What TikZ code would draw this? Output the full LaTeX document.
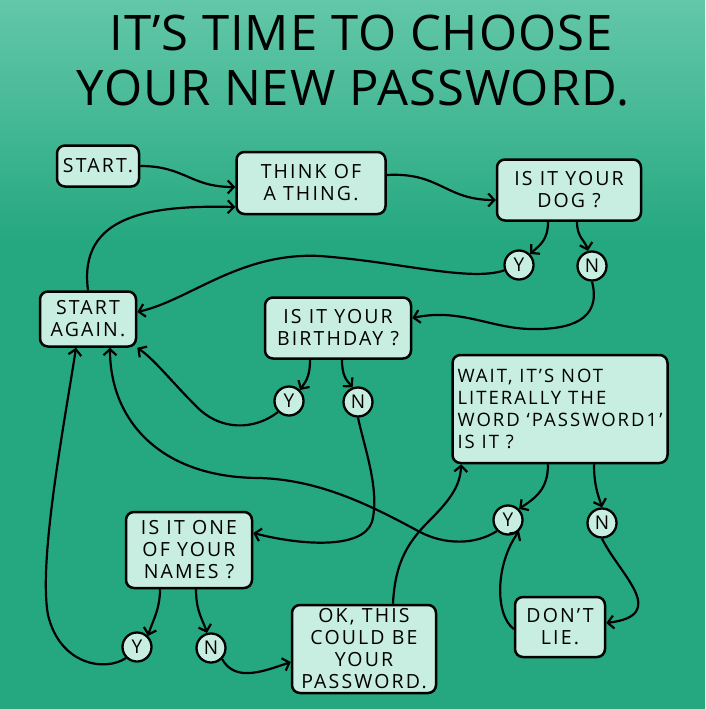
\documentclass[tikz,border=0pt]{standalone}
\usepackage{fontspec}
\setmainfont{Open Sans}
\newfontfamily\handfont[LetterSpace=11]{Open Sans}
\newfontfamily\headfont[LetterSpace=2]{Open Sans}
\usetikzlibrary{arrows.meta}
\definecolor{bgtop}{HTML}{62C7A8}
\definecolor{bgmid}{HTML}{25A87F}
\definecolor{boxfill}{HTML}{C8EEE1}
\pgfdeclareverticalshading{bgshade}{100bp}{color(0bp)=(bgmid); color(58bp)=(bgmid); color(67bp)=(bgtop!55!bgmid); color(75bp)=(bgtop); color(100bp)=(bgtop)}
\tikzset{
  flowbox/.style={draw,line width=2.5pt,rounded corners=8pt,fill=boxfill,inner sep=3pt,
    font=\handfont\fontsize{19.5}{22}\selectfont,align=center},
  answer/.style={draw,circle,line width=2.3pt,fill=boxfill,inner sep=0pt,minimum size=29pt,
    font=\handfont\fontsize{19}{19}\selectfont},
  link/.style={line width=2.2pt,-{Straight Barb[length=6pt,width=13pt,line width=2.2pt]}},
  headline/.style={font=\headfont\fontsize{49}{49}\selectfont}
}

\begin{document}
\begin{tikzpicture}[x=1pt,y=-1pt]
  \useasboundingbox (0,0) rectangle (705,709);
  \shade[shading=bgshade] (0,0) rectangle (705,709);
  % title
  \node[headline] (title1) at (361,33) {IT’S TIME TO CHOOSE};
  \node[headline] (title2) at (353,88) {YOUR NEW PASSWORD.};
  % boxes and answers
  \node[flowbox,minimum width=82pt,minimum height=41pt] (start) at (98,166) {START.};
  \node[flowbox,minimum width=149pt,minimum height=62pt] (think) at (311,183) {THINK OF\\A THING.};
  \node[flowbox,minimum width=144pt,minimum height=61pt] (dog) at (569,190) {IS IT YOUR\\DOG ?};
  \node[answer] (dogy) at (519,265) {Y};
  \node[answer] (dogn) at (592,266) {N};
  \node[flowbox,minimum width=96pt,minimum height=55pt] (again) at (88,319) {START\\AGAIN.};
  \node[flowbox,minimum width=146pt,minimum height=61pt] (bday) at (338,328) {IS IT YOUR\\BIRTHDAY ?};
  \node[answer] (bdayy) at (289,401) {Y};
  \node[answer] (bdayn) at (358,402) {N};
  \node[flowbox,align=left,minimum width=215pt,minimum height=108pt,
    font=\handfont\fontsize{18.5}{22}\selectfont] (wait) at (560,409)
    {WAIT, IT’S NOT\\LITERALLY THE\\WORD ‘PASSWORD1’\\IS IT ?};
  \node[answer] (waity) at (508,520) {Y};
  \node[answer] (waitn) at (602,523) {N};
  \node[flowbox,minimum width=126pt,minimum height=76pt] (names) at (189,550) {IS IT ONE\\OF YOUR\\NAMES ?};
  \node[answer] (namesy) at (137,647) {Y};
  \node[answer] (namesn) at (211,648) {N};
  \node[flowbox,minimum width=90pt,minimum height=60pt] (dont) at (560,627) {DON’T\\LIE.};
  \node[flowbox,minimum width=144pt,minimum height=88pt] (ok) at (364,649) {OK, THIS\\COULD BE\\YOUR\\PASSWORD.};
  % connectors
  \draw[link] (start.east) .. controls (185,166) and (190,187) .. ([yshift=-4pt]think.west);
  \draw[link] (again.north) .. controls (78,215) and (150,205) .. ([yshift=-24pt]think.west);
  \draw[link] ([yshift=8pt]think.east) .. controls (440,172) and (445,200) .. ([yshift=-10pt]dog.west);
  \draw[link] ([xshift=-21pt]dog.south) .. controls (548,240) and (540,245) .. (dogy.north east);
  \draw[link] ([xshift=8pt]dog.south) .. controls (577,238) and (585,240) .. (dogn.105);
  \draw[link] (dogy.200) .. controls (470,282) and (400,262) .. (320,256)
    .. controls (240,252) and (190,300) .. ([yshift=7pt]again.east);
  \draw[link] (dogn.south) .. controls (602,320) and (570,330) .. (530,329)
    .. controls (490,328) and (460,308) .. ([yshift=10pt]bday.east);
  \draw[link] ([xshift=-28pt]bday.south) .. controls (310,378) and (305,382) .. (bdayy.north east);
  \draw[link] ([xshift=4pt]bday.south) .. controls (342,375) and (346,380) .. (bdayn.110);
  \draw[link] (bdayy.south west) .. controls (255,430) and (220,432) .. (195,405)
    .. controls (170,380) and (155,360) .. (again.south east);
  \draw[link] (bdayn.south) .. controls (365,450) and (380,490) .. (372,522)
    .. controls (362,550) and (300,545) .. ([yshift=17pt]names.east);
  \draw[link] ([xshift=-12pt]wait.south) .. controls (548,490) and (535,498) .. (waity.north east);
  \draw[link] ([xshift=34pt]wait.south) .. controls (594,485) and (598,495) .. (waitn.north);
  \draw[link] (waity.south west) .. controls (475,545) and (445,545) .. (420,532)
    .. controls (370,505) and (320,480) .. (260,478)
    .. controls (160,478) and (110,420) .. ([xshift=22pt]again.south);
  \draw[link] (namesy.south west) .. controls (105,672) and (60,665) .. (48,615)
    .. controls (38,560) and (65,420) .. ([xshift=-12pt]again.south);
  \draw[link] ([xshift=-29pt]names.south) .. controls (160,610) and (152,622) .. (namesy.north east);
  \draw[link] ([xshift=7pt]names.south) .. controls (196,612) and (203,620) .. (namesn.105);
  \draw[link] (namesn.south east) .. controls (235,682) and (262,672) .. ([yshift=-13pt]ok.west);
  \draw[link] ([xshift=29pt]ok.north) .. controls (395,560) and (410,540) .. (430,520)
    .. controls (452,498) and (460,485) .. ([xshift=10pt]wait.south west);
  \draw[link] (waitn.south) .. controls (620,575) and (670,615) .. ([yshift=4pt]dont.east);
  \draw[link] ([yshift=-2pt]dont.west) .. controls (495,615) and (495,565) .. (waity.south east);
\end{tikzpicture}
\end{document}
